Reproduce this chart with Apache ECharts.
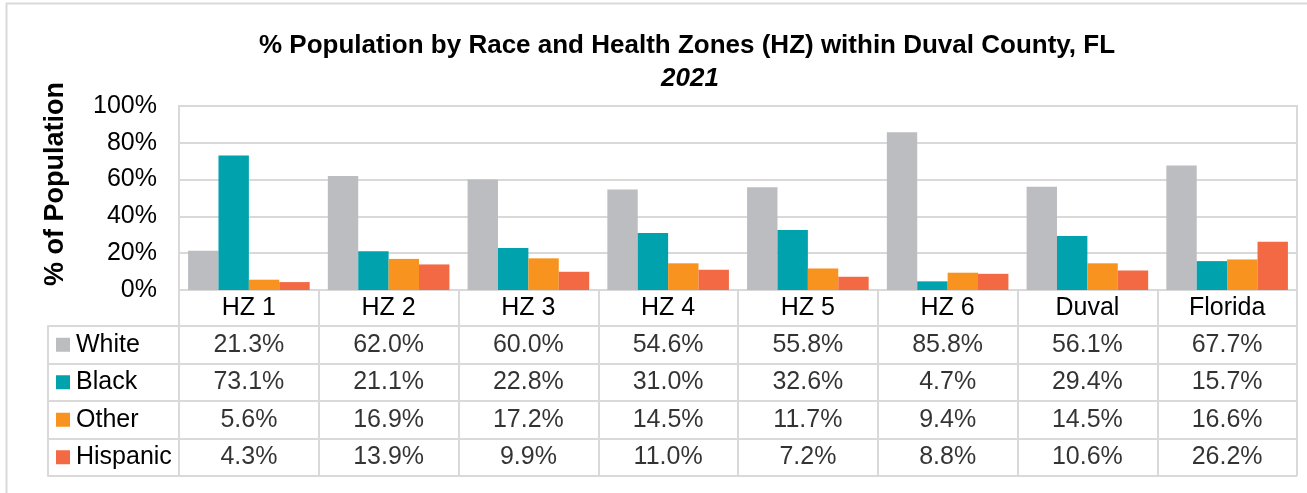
<!DOCTYPE html>
<html><head><meta charset="utf-8">
<script src="https://cdn.jsdelivr.net/npm/echarts@6/dist/echarts.min.js"></script>
<style>html,body{margin:0;padding:0;background:#fff}#c{width:1307px;height:493px}</style>
</head><body><div id="c"></div>
<script>
const categories = ['HZ 1','HZ 2','HZ 3','HZ 4','HZ 5','HZ 6','Duval','Florida'];
const seriesNames = ['White','Black','Other','Hispanic'];
const white    = [21.3, 62.0, 60.0, 54.6, 55.8, 85.8, 56.1, 67.7];
const black    = [73.1, 21.1, 22.8, 31.0, 32.6, 4.7, 29.4, 15.7];
const other    = [5.6, 16.9, 17.2, 14.5, 11.7, 9.4, 14.5, 16.6];
const hispanic = [4.3, 13.9, 9.9, 11.0, 7.2, 8.8, 10.6, 26.2];
const yTicks = [0, 20, 40, 60, 80, 100];
const titleText = '% Population by Race and Health Zones (HZ) within Duval County, FL';
const subtitleText = '2021';
const yAxisName = '% of Population';

const seriesData = [white, black, other, hispanic];
const colors = ['#BCBDC0', '#00A2AE', '#F7931E', '#F26944'];
const FONT = "'Liberation Sans', Arial, sans-serif";
const GRID_LINE = '#D9D9D9';
const FS = 25;

const chart = echarts.init(document.getElementById('c'), null, {renderer: 'canvas'});

const rich = { t: { fontSize: FS, color: '#000', fontFamily: FONT, padding: [0,0,0,6] } };
colors.forEach((c, i) => { rich['s' + i] = { width: 14, height: 14, backgroundColor: c }; });

const series = [];
seriesNames.forEach((name, i) => {
  series.push({
    name, type: 'bar', xAxisIndex: 0, yAxisIndex: 0,
    data: seriesData[i], itemStyle: { color: colors[i] },
    barGap: '0%', barCategoryGap: '13%'
  });
});
seriesNames.forEach((name, i) => {
  series.push({
    name: name + ' table', type: 'scatter', xAxisIndex: 1, yAxisIndex: 1,
    symbolSize: 1, itemStyle: { color: 'rgba(0,0,0,0)' },
    data: seriesData[i].map((v, j) => [categories[j], name, v]),
    label: { show: true, position: 'inside', fontSize: FS, color: '#000', fontFamily: FONT,
      formatter: p => p.value[2].toFixed(1) + '%' }
  });
});

chart.setOption({
  animation: false,
  textStyle: { fontFamily: FONT },
  title: [
    { text: titleText, left: 682, top: 28, textAlign: 'center',
      textStyle: { fontSize: 26, fontWeight: 'bold', color: '#000', fontFamily: FONT } },
    { text: subtitleText, left: 685, top: 61, textAlign: 'center',
      textStyle: { fontSize: 26, fontWeight: 'bold', fontStyle: 'italic', color: '#000', fontFamily: FONT } }
  ],
  grid: [
    { left: 179, top: 106, width: 1118, height: 184, show: true, borderColor: GRID_LINE, borderWidth: 2 },
    { left: 179, top: 326, width: 1118, height: 150 }
  ],
  xAxis: [
    { type: 'category', gridIndex: 0, data: categories,
      axisLine: { lineStyle: { color: GRID_LINE, width: 2 } },
      axisTick: { show: true, interval: 0, length: 35, lineStyle: { color: GRID_LINE, width: 2 } },
      axisLabel: { interval: 0, fontSize: FS, color: '#000', margin: 18, verticalAlign: 'middle', fontFamily: FONT },
      splitLine: { show: false } },
    { type: 'category', gridIndex: 1, data: categories, position: 'top',
      axisLine: { show: true, lineStyle: { color: GRID_LINE, width: 2 } },
      axisTick: { show: false }, axisLabel: { show: false },
      splitLine: { show: true, interval: 0, lineStyle: { color: GRID_LINE, width: 2 } } }
  ],
  yAxis: [
    { type: 'value', gridIndex: 0, min: 0, max: 100, interval: 20,
      axisLine: { show: false }, axisTick: { show: false },
      axisLabel: { fontSize: FS, color: '#000', margin: 22, formatter: '{value}%', fontFamily: FONT },
      splitLine: { lineStyle: { color: GRID_LINE, width: 2 } } },
    { type: 'category', gridIndex: 1, data: seriesNames, inverse: true,
      axisLine: { show: true, lineStyle: { color: GRID_LINE, width: 2 } },
      axisTick: { show: true, interval: 0, length: 131, lineStyle: { color: GRID_LINE, width: 2 } },
      axisLabel: { interval: 0, align: 'left', margin: 123,
        formatter: (v, i) => '{s' + i + '|}{t|' + v + '}', rich },
      splitLine: { show: true, interval: 0, lineStyle: { color: GRID_LINE, width: 2 } } },
    { type: 'category', gridIndex: 1, data: seriesNames, inverse: true, position: 'left', offset: 131,
      axisLine: { show: true, lineStyle: { color: GRID_LINE, width: 2 } },
      axisTick: { show: false }, axisLabel: { show: false }, splitLine: { show: false } }
  ],
  graphic: [
    { type: 'rect', left: 4, top: 1, z: -10, silent: true,
      shape: { width: 1320, height: 510 },
      style: { fill: 'none', stroke: GRID_LINE, lineWidth: 2 } },
    { type: 'text', x: 56, y: 184, rotation: Math.PI / 2, silent: true,
      style: { text: yAxisName, fontSize: 27, fontWeight: 'bold', fill: '#000', fontFamily: FONT,
        textAlign: 'center', textVerticalAlign: 'middle' } }
  ],
  series
});
</script></body></html>
